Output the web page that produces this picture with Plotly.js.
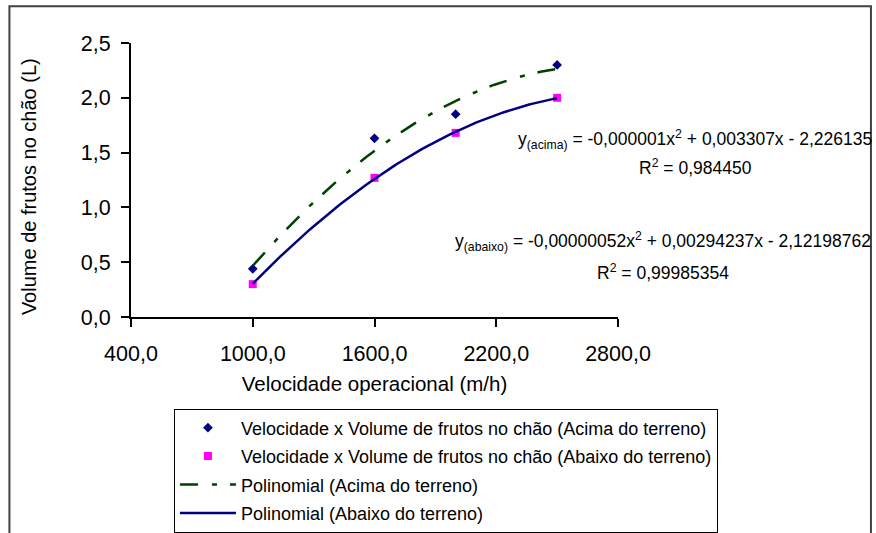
<!DOCTYPE html>
<html>
<head>
<meta charset="utf-8">
<script src="https://cdn.plot.ly/plotly-3.0.1.min.js"></script>
<style>
  html, body { margin: 0; padding: 0; background: #fff; }
  #chart { width: 876px; height: 533px; }
</style>
</head>
<body>
<div id="chart"></div>
<script>
// ---- data ----
const velocidade = [1000, 1600, 2000, 2500];          // m/h
const volumeAcima = [0.44, 1.63, 1.85, 2.30];         // L
const volumeAbaixo = [0.30, 1.27, 1.68, 2.00];        // L
const xTickVals = [400, 1000, 1600, 2200, 2800];
const yTickVals = [0, 0.5, 1.0, 1.5, 2.0, 2.5];
const xTitle = 'Velocidade operacional (m/h)';
const yTitle = 'Volume de frutos no chão (L)';
const legendNames = [
  'Velocidade x Volume de frutos no chão (Acima do terreno)',
  'Velocidade x Volume de frutos no chão (Abaixo do terreno)',
  'Polinomial (Acima do terreno)',
  'Polinomial (Abaixo do terreno)'
];
const eqAcima = 'y<sub>(acima)</sub> = -0,000001x<sup>2</sup> + 0,003307x - 2,226135';
const r2Acima = 'R<sup>2</sup> = 0,984450';
const eqAbaixo = 'y<sub>(abaixo)</sub> = -0,00000052x<sup>2</sup> + 0,00294237x - 2,12198762';
const r2Abaixo = 'R<sup>2</sup> = 0,99985354';

// ---- quadratic least-squares trendline (as the spreadsheet does) ----
function quadFit(xs, ys) {
  const s = k => xs.reduce((a, x) => a + Math.pow(x, k), 0);
  const t = k => xs.reduce((a, x, i) => a + Math.pow(x, k) * ys[i], 0);
  const M = [[s(0), s(1), s(2), t(0)], [s(1), s(2), s(3), t(1)], [s(2), s(3), s(4), t(2)]];
  for (let c = 0; c < 3; c++) {
    let p = c;
    for (let r = c + 1; r < 3; r++) if (Math.abs(M[r][c]) > Math.abs(M[p][c])) p = r;
    [M[c], M[p]] = [M[p], M[c]];
    for (let r = 0; r < 3; r++) {
      if (r === c) continue;
      const f = M[r][c] / M[c][c];
      for (let k = c; k < 4; k++) M[r][k] -= f * M[c][k];
    }
  }
  return [M[0][3] / M[0][0], M[1][3] / M[1][1], M[2][3] / M[2][2]];
}
function trend(xs, ys) {
  const xk = xs.map(x => x / 1000);
  const [c0, c1, c2] = quadFit(xk, ys);
  const lo = Math.min(...xs), hi = Math.max(...xs);
  const X = [], Y = [];
  const n = 120;
  for (let i = 0; i <= n; i++) {
    const x = lo + (hi - lo) * i / n;
    const u = x / 1000;
    X.push(x); Y.push(c0 + c1 * u + c2 * u * u);
  }
  return { X, Y };
}
const tA = trend(velocidade, volumeAcima);
const tB = trend(velocidade, volumeAbaixo);

const FONT = 'Liberation Sans, Arial, Helvetica, sans-serif';

const traces = [
  { x: velocidade, y: volumeAcima, type: 'scatter', mode: 'markers', name: legendNames[0],
    legendgroup: 'g1',
    marker: { symbol: 'diamond', size: 7.5, color: '#000080' } },
  { x: velocidade, y: volumeAbaixo, type: 'scatter', mode: 'markers', name: legendNames[1],
    legendgroup: 'g2',
    marker: { symbol: 'square', size: 8, color: '#ff00ff' } },
  { x: tA.X, y: tA.Y, type: 'scatter', mode: 'lines', name: legendNames[2],
    legendgroup: 'g3',
    line: { color: '#004000', width: 2.5, dash: '18px,14px,5px,13px' } },
  { x: tB.X, y: tB.Y, type: 'scatter', mode: 'lines', name: legendNames[3],
    legendgroup: 'g4',
    line: { color: '#000080', width: 2.5 } }
];

const L = 131, R = 618.5, T = 43.3, B = 316.7;
const W = R - L, H = B - T;
const px = v => (v - L) / W;
const py = v => (B - v) / H;

const layout = {
  width: 876, height: 533,
  margin: { l: L, r: 876 - R, t: T, b: 533 - B, pad: 0, autoexpand: false },
  paper_bgcolor: '#fff', plot_bgcolor: '#fff',
  separators: ',.',
  font: { family: FONT, size: 20, color: '#000' },
  showlegend: true,
  xaxis: {
    range: [400, 2800], tickvals: xTickVals, tickformat: '.1f',
    showgrid: false, zeroline: false, showline: true, linecolor: '#000', linewidth: 2,
    ticks: 'outside', ticklen: 8, tickwidth: 2, tickcolor: '#000',
    ticklabelstandoff: 8,
    tickfont: { family: FONT, size: 21.5, color: '#000' },
    title: { text: xTitle, font: { family: FONT, size: 20.5, color: '#000' }, standoff: 12 },
    automargin: false,
    fixedrange: true
  },
  yaxis: {
    range: [0, 2.5], tickvals: yTickVals, tickformat: '.1f',
    showgrid: false, zeroline: false, showline: true, linecolor: '#000', linewidth: 2,
    ticks: 'outside', ticklen: 8, tickwidth: 2, tickcolor: '#000',
    ticklabelstandoff: 6,
    tickfont: { family: FONT, size: 21.5, color: '#000' },
    automargin: false,
    fixedrange: true
  },
  legend: {
    x: px(174), y: py(408), xanchor: 'left', yanchor: 'top',
    bgcolor: '#fff', bordercolor: '#000', borderwidth: 1,
    font: { family: FONT, size: 18, color: '#000' },
    itemwidth: 56, traceorder: 'grouped', tracegroupgap: 2
  },
  annotations: [
    { text: yTitle, xref: 'paper', yref: 'paper', x: px(29), y: py(187), xanchor: 'center', yanchor: 'middle', textangle: -90, showarrow: false, font: { family: FONT, size: 20, color: '#000' } },
    { text: eqAcima, xref: 'paper', yref: 'paper', x: px(695.7), y: py(140), xanchor: 'center', yanchor: 'middle', showarrow: false, font: { family: FONT, size: 17.5, color: '#000' } },
    { text: r2Acima, xref: 'paper', yref: 'paper', x: px(696), y: py(166.7), xanchor: 'center', yanchor: 'middle', showarrow: false, font: { family: FONT, size: 17.5, color: '#000' } },
    { text: eqAbaixo, xref: 'paper', yref: 'paper', x: px(664), y: py(241.7), xanchor: 'center', yanchor: 'middle', showarrow: false, font: { family: FONT, size: 17.5, color: '#000' } },
    { text: r2Abaixo, xref: 'paper', yref: 'paper', x: px(664), y: py(271.7), xanchor: 'center', yanchor: 'middle', showarrow: false, font: { family: FONT, size: 17.5, color: '#000' } }
  ],
  shapes: [
    { type: 'rect', xref: 'paper', yref: 'paper', layer: 'below',
      x0: px(9.3), x1: px(871.7), y0: py(545), y1: py(6.7),
      line: { color: '#404040', width: 2 }, fillcolor: 'rgba(0,0,0,0)' }
  ]
};

Plotly.newPlot('chart', traces, layout, { displayModeBar: false, staticPlot: true });
</script>
</body>
</html>
